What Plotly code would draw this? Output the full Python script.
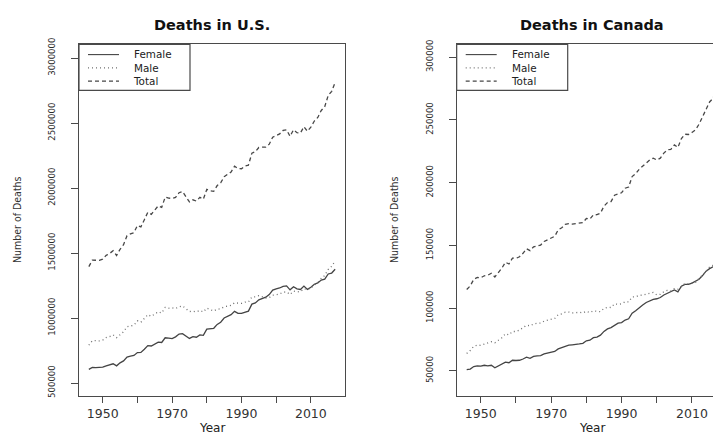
import plotly.graph_objects as go

# ---- data -------------------------------------------------------------
years = list(range(1946, 2018))

us_female = [605000, 620000, 618000, 620000, 622000, 632000, 640000, 648000, 632000, 655000,
             670000, 700000, 706000, 712000, 734000, 735000, 760000, 788000, 785000, 800000,
             815000, 812000, 848000, 846000, 842000, 855000, 877000, 880000, 862000, 843000,
             857000, 852000, 870000, 867000, 914000, 915000, 921000, 951000, 968000, 1000000,
             1011000, 1026000, 1051000, 1036000, 1035000, 1047000, 1053000, 1107000, 1116000, 1140000,
             1151000, 1160000, 1180000, 1215000, 1225000, 1231000, 1244000, 1247000, 1217000, 1241000,
             1225000, 1220000, 1246000, 1220000, 1236000, 1260000, 1270000, 1292000, 1299000, 1339000,
             1346000, 1375000]
us_male = [791000, 825000, 826000, 824000, 830000, 850000, 857000, 870000, 849000, 874000,
           894000, 933000, 942000, 945000, 978000, 967000, 997000, 1026000, 1013000, 1028000,
           1048000, 1039000, 1082000, 1076000, 1079000, 1073000, 1087000, 1093000, 1072000, 1050000,
           1052000, 1048000, 1058000, 1047000, 1076000, 1063000, 1054000, 1068000, 1071000, 1086000,
           1094000, 1097000, 1117000, 1114000, 1113000, 1122000, 1123000, 1162000, 1163000, 1172000,
           1164000, 1154000, 1157000, 1176000, 1178000, 1185000, 1199000, 1201000, 1181000, 1207000,
           1201000, 1204000, 1226000, 1217000, 1232000, 1255000, 1273000, 1305000, 1327000, 1374000,
           1398000, 1439000]
us_total = [1395617, 1445370, 1444337, 1443607, 1452454, 1482099, 1496838, 1517541, 1481091, 1528717,
            1564476, 1633128, 1647886, 1656814, 1711982, 1701522, 1756720, 1813549, 1798051, 1828136,
            1863149, 1851323, 1930082, 1921990, 1921031, 1927542, 1963944, 1973003, 1934388, 1892879,
            1909440, 1899597, 1927788, 1913841, 1989841, 1977981, 1974797, 2019201, 2039369, 2086440,
            2105361, 2123323, 2167999, 2150466, 2148463, 2169518, 2175613, 2268553, 2278994, 2312132,
            2314690, 2314245, 2337256, 2391399, 2403351, 2416425, 2443387, 2448288, 2397615, 2448017,
            2426264, 2423712, 2471984, 2437163, 2468435, 2515458, 2543279, 2596993, 2626418, 2712630,
            2744248, 2813503]

ca_female = [51000, 51500, 53500, 54000, 53800, 54500, 54000, 54500, 52500, 54000,
             55500, 57000, 56500, 58500, 58300, 58500, 59500, 61000, 60000, 61500,
             62000, 62200, 63500, 64300, 64800, 65500, 67500, 68500, 70000, 70500,
             70800, 71000, 71500, 72000, 74000, 74500, 76500, 77000, 78500, 81500,
             83500, 84500, 86500, 88000, 88500, 90500, 91500, 96000, 98000, 100500,
             102500, 104500, 106000, 107000, 107500, 108500, 110500, 112000, 113000, 114500,
             113000, 117500, 119000, 119000, 120000, 121500, 123000, 126000, 129500, 131500,
             133000, 137500]
ca_male = [63900, 66200, 69500, 70500, 70400, 71300, 72200, 73300, 72400, 74500,
           76500, 79600, 78700, 81400, 81400, 82500, 84200, 86400, 85900, 87400,
           87900, 88100, 89700, 90200, 91200, 91800, 94900, 95500, 96800, 96900,
           96200, 96500, 96700, 96200, 97500, 96500, 97900, 97500, 97200, 99800,
           100700, 100500, 103500, 103000, 103500, 105100, 105000, 108900, 109100, 110200,
           110400, 111200, 112100, 112500, 110600, 111000, 113100, 114200, 113600, 115600,
           115100, 117700, 119600, 119400, 120100, 120600, 123600, 126300, 129300, 132800,
           134200, 139200]
ca_total = [114931, 117725, 122974, 124474, 124220, 125823, 126224, 127791, 124855, 128476,
            131961, 136579, 135201, 139913, 139693, 140985, 143699, 147367, 145850, 148939,
            149863, 150283, 153196, 154477, 155961, 157272, 162413, 164039, 166794, 167404,
            167009, 167498, 168179, 168183, 171473, 171029, 174413, 174484, 175727, 181323,
            184224, 184953, 190011, 190965, 191973, 195568, 196535, 204912, 207077, 210733,
            212880, 215669, 218091, 219530, 218062, 219538, 223603, 226169, 226584, 230132,
            228079, 235217, 238617, 238418, 240075, 242074, 246596, 252338, 258821, 264333,
            267213, 276689]

series_names = ["Female", "Male", "Total"]
x_tickvals = [1950, 1960, 1970, 1980, 1990, 2000, 2010]
x_ticktext = ["1950", "", "1970", "", "1990", "", "2010"]
us_ytickvals = [500000, 1000000, 1500000, 2000000, 2500000, 3000000]
ca_ytickvals = [50000, 100000, 150000, 200000, 250000, 300000]

# ---- page geometry (pixels) ------------------------------------------
W, H = 713, 438
TOP, BOTTOM = 39, 397
L_LEFT, L_RIGHT = 79, 345
R_LEFT = 456.7


def fx(p):
    return p / W


def fy(p):
    return 1 - p / H


INK = "#4a4a4a"
styles = {
    "Female": dict(color="#444444", width=1.3, dash="solid"),
    "Male": dict(color="#707070", width=1.3, dash="1px,3px"),
    "Total": dict(color="#474747", width=1.3, dash="4px,3px"),
}

fig = go.Figure()

panels = [
    ("x", "y", [us_female, us_male, us_total]),
    ("x2", "y2", [ca_female, ca_male, ca_total]),
]
for xa, ya, vals in panels:
    for name, v in zip(series_names, vals):
        fig.add_trace(go.Scatter(x=years, y=v, mode="lines", name=name,
                                 line=styles[name], xaxis=xa, yaxis=ya,
                                 showlegend=False, hoverinfo="skip"))

tick_font = dict(family="DejaVu Sans", size=12.5, color="#333")
ytick_font = dict(family="DejaVu Sans Condensed, Liberation Sans Narrow, Liberation Sans",
                  size=9.5, color="#2a2a2a")

common_x = dict(tickmode="array", tickvals=x_tickvals, ticktext=x_ticktext,
                ticks="outside", ticklen=6, tickwidth=1, tickcolor=INK,
                showline=True, linecolor=INK, linewidth=1.2, mirror=True,
                showgrid=False, zeroline=False, tickfont=tick_font, fixedrange=True)
common_y = dict(tickmode="array", ticks="outside", ticklen=7, tickwidth=1,
                tickcolor=INK, showline=True, linecolor=INK, linewidth=1.2,
                showgrid=False, zeroline=False, tickangle=-90, tickfont=ytick_font,
                ticklabelstandoff=12, fixedrange=True)

ydom = [fy(BOTTOM), fy(TOP)]
fig.update_layout(
    width=W, height=H, autosize=False,
    margin=dict(l=0, r=0, t=0, b=0, pad=0),
    paper_bgcolor="white", plot_bgcolor="white",
    xaxis=dict(domain=[fx(L_LEFT), fx(L_RIGHT)], range=[1943.16, 2019.84],
               anchor="y", **common_x),
    yaxis=dict(domain=ydom, range=[402000, 3106000], anchor="x",
               tickvals=us_ytickvals, ticktext=[str(v) for v in us_ytickvals],
               mirror=True, **common_y),
    xaxis2=dict(domain=[fx(R_LEFT), 1.0], range=[1943.16, 2015.97],
                anchor="y2", **common_x),
    yaxis2=dict(domain=ydom, range=[30200, 310300], anchor="x2",
                tickvals=ca_ytickvals, ticktext=[str(v) for v in ca_ytickvals],
                mirror=False, **common_y),
)

# ---- titles, axis labels, legends ------------------------------------
annotations = []
shapes = []
panel_info = [
    ("Deaths in U.S.", L_LEFT, (L_LEFT + L_RIGHT) / 2, 17),
    ("Deaths in Canada", R_LEFT, 591.8, 394),
]
LEG_TOP, LEG_BOTTOM = TOP, 86
row_ys = [49.5, 63.0, 76.5]
for title, left, center, ylab_x in panel_info:
    annotations.append(dict(text="<b>%s</b>" % title, x=fx(center), y=fy(19),
                            xref="paper", yref="paper", showarrow=False,
                            xanchor="center", yanchor="middle",
                            font=dict(family="DejaVu Sans", size=14.5, color="#111")))
    annotations.append(dict(text="Year", x=fx(center), y=fy(H),
                            xref="paper", yref="paper", showarrow=False,
                            xanchor="center", yanchor="bottom", borderpad=0,
                            font=dict(family="DejaVu Sans", size=12, color="#222")))
    annotations.append(dict(text="Number of Deaths", x=fx(ylab_x), y=fy(218),
                            xref="paper", yref="paper", showarrow=False,
                            textangle=-90, xanchor="center", yanchor="middle",
                            font=dict(family="DejaVu Sans Condensed, Liberation Sans Narrow, Liberation Sans",
                                      size=10.5, color="#333")))
    # legend frame
    shapes.append(dict(type="rect", xref="paper", yref="paper",
                       x0=fx(left), x1=fx(left + 111), y0=fy(LEG_BOTTOM), y1=fy(LEG_TOP),
                       line=dict(color=INK, width=1.2), fillcolor="white", layer="above"))
    for name, row_y in zip(series_names, row_ys):
        st = styles[name]
        shapes.append(dict(type="line", xref="paper", yref="paper",
                           x0=fx(left + 9), x1=fx(left + 40), y0=fy(row_y), y1=fy(row_y),
                           line=dict(color=st["color"], width=1.1, dash=st["dash"]),
                           layer="above"))
    # legend labels as one block, one line per series
    annotations.append(dict(text="<br>".join(series_names), x=fx(left + 53),
                            y=fy((row_ys[0] + row_ys[-1]) / 2),
                            xref="paper", yref="paper", showarrow=False,
                            xanchor="left", yanchor="middle", align="left",
                            borderpad=0,
                            font=dict(family="DejaVu Sans", size=10.4, color="#222")))

fig.update_layout(annotations=annotations, shapes=shapes)
fig.write_html("out.html")
